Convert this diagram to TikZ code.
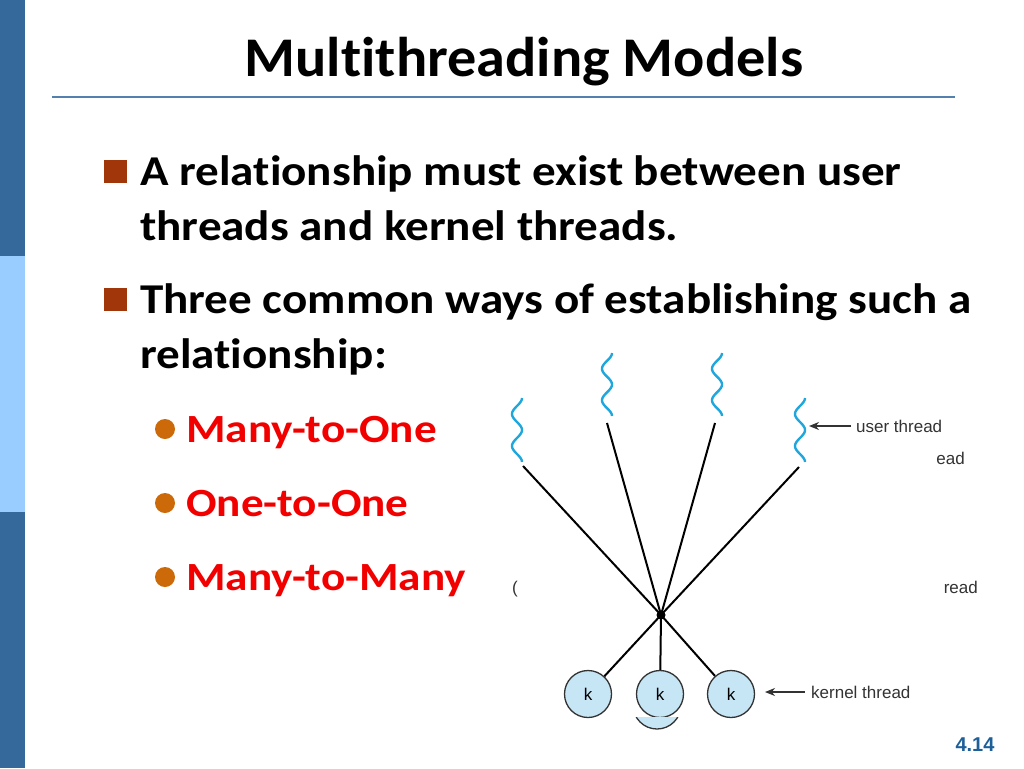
\documentclass[tikz,border=0pt]{standalone}
\usepackage{fontspec}
\setmainfont{Carlito}[Ligatures=NoCommon]
\newfontfamily\titlefont{Carlito}[Ligatures=NoCommon, FakeStretch=1.04]
\newfontfamily\bodyfont{Carlito}[Ligatures=NoCommon, FakeStretch=1.108]
\newfontfamily\subfont{Carlito}[Ligatures=NoCommon, FakeStretch=1.13]
\newfontfamily\arialfont{Liberation Sans}
\usetikzlibrary{arrows.meta}
\definecolor{bardark}{HTML}{35689B}
\definecolor{barlight}{HTML}{99CCFF}
\definecolor{ruleblue}{HTML}{5480AE}
\definecolor{sqred}{HTML}{A0360A}
\definecolor{dotorange}{HTML}{CC6A0A}
\definecolor{itemred}{HTML}{F20000}
\definecolor{wavecyan}{HTML}{1FA6DC}
\definecolor{kfill}{HTML}{C6E5F5}
\definecolor{labgray}{HTML}{333333}
\definecolor{pagenum}{HTML}{1D5F99}
\tikzset{
  body/.style={anchor=base west, inner sep=0pt, font=\bodyfont\fontsize{42.5}{50}\selectfont\bfseries},
  subitem/.style={anchor=base west, inner sep=0pt, text=itemred, font=\subfont\fontsize{40}{48}\selectfont\bfseries},
  sqbullet/.style={fill=sqred, draw=none, minimum size=23pt, inner sep=0pt},
  rdbullet/.style={circle, fill=dotorange, draw=none, minimum size=20pt, inner sep=0pt},
  wave/.style={wavecyan, line width=2.4pt},
  link/.style={black, line width=2pt},
  kthread/.style={circle, draw=labgray, line width=1.3pt, fill=kfill, minimum size=47pt, inner sep=0pt, font=\arialfont\fontsize{17}{20}\selectfont},
  lab/.style={anchor=base west, inner sep=0pt, text=labgray, font=\arialfont\fontsize{17}{20}\selectfont},
  pointer/.style={-{Stealth[length=10pt,width=8pt]}, line width=1.6pt, labgray},
}
\newcommand{\uthreadwave}[3]{% x, ytop, ybot
  \draw[wave] plot[domain=0:1, samples=60, smooth] ({#1+5*sin(720*\x+90)}, {#2+(#3-#2)*\x});
}
\begin{document}
\begin{tikzpicture}[x=1pt, y=-1pt]
\useasboundingbox (0,0) rectangle (1024,768);
\fill[white] (0,0) rectangle (1024,768);
% left bar
\fill[bardark] (0,0) rectangle (25,256);
\fill[barlight] (0,256) rectangle (25,512);
\fill[bardark] (0,512) rectangle (25,768);
% title
\node[anchor=base, inner sep=0pt, font=\titlefont\fontsize{56}{64}\selectfont\bfseries] (title) at (524,77) {Multithreading Models};
\draw[ruleblue, line width=2pt] (52,97) -- (955,97);
% bullets
\node[sqbullet] (b1) at (115.5,171.5) {};
\node[body] (t1a) at (140,185) {A relationship must exist between user};
\node[body] (t1b) at (140,240) {threads and kernel threads.};
\node[sqbullet] (b2) at (115.5,299.5) {};
\node[body] (t2a) at (140,313) {Three common ways of establishing such a};
\node[body] (t2b) at (140,368) {relationship:};
\node[rdbullet] (s1) at (165,429) {};
\node[subitem] (i1) at (186,442) {Many-to-One};
\node[rdbullet] (s2) at (165,503) {};
\node[subitem] (i2) at (186,516) {One-to-One};
\node[rdbullet] (s3) at (165,577) {};
\node[subitem] (i3) at (186,590) {Many-to-Many};
% diagram
\uthreadwave{517}{398}{462}
\uthreadwave{607}{353}{416}
\uthreadwave{717}{353}{416}
\uthreadwave{800}{398}{462}
\coordinate (u1) at (523,466);
\coordinate (u2) at (607,423);
\coordinate (u3) at (715,423);
\coordinate (u4) at (799,467);
\node[circle, fill=black, minimum size=9pt, inner sep=0pt] (hub) at (661,615) {};
\node[kthread] (k1) at (588,694) {k};
\node[kthread] (k2) at (660,694) {k};
\node[kthread] (k3) at (731,694) {k};
\foreach \u in {u1,u2,u3,u4} \draw[link] (\u) -- (hub.center);
\foreach \k in {k1,k2,k3} \draw[link] (hub.center) -- (\k);
\begin{scope}
  \clip (625,717.5) rectangle (695,740);
  \draw[draw=labgray, line width=1.3pt, fill=kfill] (657,705) circle (24);
\end{scope}
\node[lab] (ulab) at (856,432) {user thread};
\coordinate (uarr) at (809,426);
\draw[pointer] (851,426) -- (uarr);
\node[lab] (klab) at (811,698) {kernel thread};
\coordinate (karr) at (765,692);
\draw[pointer] (805,692) -- (karr);
\node[lab, anchor=base east] (frag1) at (965,464) {ead};
\node[lab, anchor=base east] (frag2) at (978,593) {read};
\node[lab] (frag3) at (512,593) {(};
% page number
\node[inner sep=0pt, text=pagenum, font=\arialfont\fontsize{20}{24}\selectfont\bfseries] (pg) at (975,745) {4.14};
\end{tikzpicture}
\end{document}
